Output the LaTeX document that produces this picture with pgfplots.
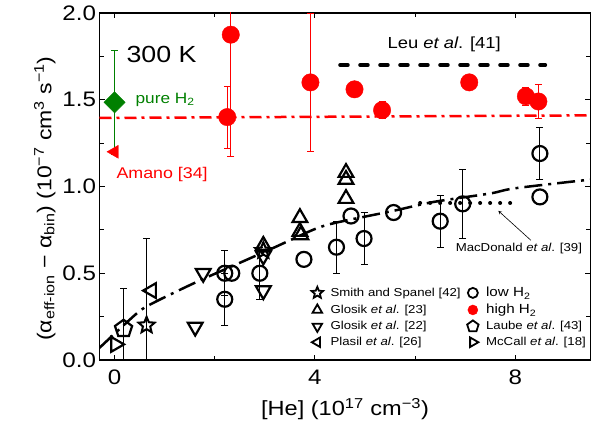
\documentclass[border=0pt]{standalone}
\usepackage{fontspec}
\setmainfont{Liberation Sans}[FakeStretch=1.15]
\usepackage{pgfplots}
\pgfplotsset{compat=1.18}
\usetikzlibrary{plotmarks}

% open five-pointed star
\pgfdeclareplotmark{ostar}{%
  \pgfpathmoveto{\pgfqpointpolar{90}{\pgfplotmarksize}}%
  \pgfpathlineto{\pgfqpointpolar{126}{0.45\pgfplotmarksize}}%
  \pgfpathlineto{\pgfqpointpolar{162}{\pgfplotmarksize}}%
  \pgfpathlineto{\pgfqpointpolar{198}{0.45\pgfplotmarksize}}%
  \pgfpathlineto{\pgfqpointpolar{234}{\pgfplotmarksize}}%
  \pgfpathlineto{\pgfqpointpolar{270}{0.45\pgfplotmarksize}}%
  \pgfpathlineto{\pgfqpointpolar{306}{\pgfplotmarksize}}%
  \pgfpathlineto{\pgfqpointpolar{342}{0.45\pgfplotmarksize}}%
  \pgfpathlineto{\pgfqpointpolar{18}{\pgfplotmarksize}}%
  \pgfpathlineto{\pgfqpointpolar{54}{0.45\pgfplotmarksize}}%
  \pgfpathclose\pgfusepathqstroke}

\definecolor{hired}{RGB}{255,0,0}
\definecolor{pgreen}{RGB}{0,128,0}

\begin{document}
\begin{tikzpicture}
\useasboundingbox (-99.5pt,-67pt) rectangle (501.5pt,360pt);
\begin{axis}[
  scale only axis, width=491pt, height=347pt,
  xmin=-0.3, xmax=9.5, ymin=0, ymax=2,
  xtick={0,4,8}, minor xtick={2,6},
  ytick={0,0.5,1,1.5,2}, minor ytick={0.25,0.75,1.25,1.75},
  tick align=inside,
  major tick length=5pt, minor tick length=4pt,
  every tick/.style={black, line width=1.1pt},
  axis line style={line width=1.2pt},
  /pgf/number format/assume math mode=true,
  yticklabel style={/pgf/number format/fixed, /pgf/number format/fixed zerofill, /pgf/number format/precision=1},
  tick label style={font=\fontsize{21}{21}\selectfont},
  xticklabel style={anchor=base, yshift=-25pt},
  xlabel={[He] (10\textsuperscript{17} cm\textsuperscript{−3})},
  ylabel={(α\textsubscript{eff-ion} − α\textsubscript{bin}) (10\textsuperscript{−7} cm\textsuperscript{3} s\textsuperscript{−1})},
  every axis x label/.style={at={(axis description cs:0.5,-0.161)}, anchor=base,
    font=\fontsize{20.5}{20.5}\selectfont},
  ylabel style={at={(ticklabel cs:0.465)}, anchor=near ticklabel,
    font=\fontsize{20}{20}\selectfont},
  legend style={at={(axis cs:3.87,0.44)}, anchor=north west, draw=none, fill=none,
    legend columns=2, font=\fontsize{11.5}{12}\selectfont,
    nodes={inner sep=1.5pt}, row sep=3pt,
    /tikz/every odd column/.append style={column sep=6pt},
    /tikz/every even column/.append style={column sep=5pt}},
  legend cell align=left,
]

% fit lines
\addplot[hired, line width=2.5pt, dash pattern=on 12pt off 5pt on 3pt off 5pt, forget plot]
  coordinates {(-0.3,1.395) (9.5,1.41)};
\addplot[black, line width=2.5pt, smooth, dash pattern=on 18pt off 6pt on 3pt off 6pt, forget plot]
  coordinates {(-0.3,0.07) (0.45,0.27) (0.78,0.33) (1.64,0.45) (2.5,0.56) (3.2,0.65)
    (3.96,0.75) (4.4,0.79) (5.57,0.86) (6.35,0.91) (7.5,0.96) (8.0,0.99) (9.5,1.04)};
% Leu et al.
\addplot[black, line width=3.5pt, line cap=round, dash pattern=on 8pt off 12pt, forget plot]
  coordinates {(4.5,1.70) (8.6,1.70)};
% MacDonald et al.
\addplot[black, line width=4pt, line cap=round, dash pattern=on 0pt off 10pt, forget plot]
  coordinates {(6.1,0.905) (8.0,0.905)};

% pure H2
\addplot[only marks, pgreen, mark=square*, mark size=7.5pt, mark options={rotate=45}, forget plot,
  error bars/.cd, y dir=both, y explicit,
  error bar style={line width=1.5pt, pgreen}, error mark options={rotate=90, mark size=3.5pt, line width=1.5pt, pgreen}]
  coordinates {(0,1.485) +- (0,0.30)};
% Amano
\addplot[only marks, hired, mark=triangle*, mark size=7.5pt, mark options={rotate=90}, forget plot]
  coordinates {(0,1.20)};

% high H2
\addplot[only marks, hired, mark=*, mark size=8.7pt, forget plot,
  error bars/.cd, y dir=both, y explicit,
  error bar style={line width=0.7pt, hired}, error mark options={rotate=90, mark size=3.5pt, line width=0.7pt, hired}]
  coordinates {(2.25,1.40) +- (0,0.18) (2.32,1.875) +- (0,0.70) (3.91,1.60) +- (0,0.40)
    (5.34,1.44) +- (0,0.05) (8.21,1.52) +- (0,0.05) (8.46,1.49) +- (0,0.10)};
\addplot[only marks, hired, mark=*, mark size=8.7pt, forget plot]
  coordinates {(4.79,1.56) (7.08,1.60)};

% low H2
\addplot[only marks, black, mark=o, mark size=7.5pt, line width=2.2pt, forget plot,
  error bars/.cd, y dir=both, y explicit,
  error bar style={line width=0.8pt}, error mark options={rotate=90, mark size=3.5pt, line width=0.8pt}]
  coordinates {(2.2,0.50) +- (0,0.13) (2.2,0.35) +- (0,0.15) (2.9,0.50) +- (0,0.15)
    (4.43,0.65) +- (0,0.15) (4.98,0.70) +- (0,0.15) (6.5,0.80) +- (0,0.15)
    (6.95,0.90) +- (0,0.20) (8.49,1.19) +- (0,0.15)};
\addplot[only marks, black, mark=o, mark size=7.5pt, line width=2.2pt, forget plot]
  coordinates {(2.34,0.50) (3.78,0.58) (4.72,0.83) (5.57,0.85) (8.49,0.94)};

% Glosik et al. [23]
\addplot[only marks, black, mark=triangle, mark size=8.5pt, line width=2.2pt, forget plot]
  coordinates {(2.97,0.66) (3.70,0.82) (3.70,0.74) (3.72,0.72) (4.62,1.08) (4.62,1.04) (4.62,0.93)};
% Glosik et al. [22]
\addplot[only marks, black, mark=triangle, mark size=8.5pt, line width=2.2pt, mark options={rotate=180}, forget plot]
  coordinates {(1.61,0.19) (1.77,0.50) (2.97,0.60) (2.97,0.40)};
% Smith and Spanel
\addplot[only marks, black, mark=ostar, mark size=8.5pt, line width=2pt, forget plot,
  error bars/.cd, y dir=both, y explicit,
  error bar style={line width=0.8pt}, error mark options={rotate=90, mark size=3.5pt, line width=0.8pt}]
  coordinates {(0.64,0.20) +- (0,0.50)};
\addplot[only marks, black, mark=ostar, mark size=8.5pt, line width=2pt, forget plot]
  coordinates {(2.97,0.63)};
% Plasil
\addplot[only marks, black, mark=triangle, mark size=8.5pt, line width=2.2pt, mark options={rotate=90}, forget plot]
  coordinates {(0.74,0.40)};
% Laube
\addplot[only marks, black, mark=pentagon, mark size=9pt, line width=2.2pt, forget plot,
  error bars/.cd, y dir=both, y explicit,
  error bar style={line width=0.8pt}, error mark options={rotate=90, mark size=3.5pt, line width=0.8pt}]
  coordinates {(0.18,0.18) +- (0,0.23)};
% McCall
\addplot[only marks, black, mark=triangle, mark size=8.5pt, line width=2.2pt, mark options={rotate=-90}, forget plot]
  coordinates {(0.02,0.09)};

% legend
\addlegendimage{only marks, black, mark=ostar, mark size=6pt, line width=1.8pt}
\addlegendentry{Smith and Spanel [42]}
\addlegendimage{only marks, black, mark=o, mark size=5pt, line width=1.8pt}
\addlegendentry{\fontsize{13.2}{13.2}\selectfont low H\textsubscript{2}}
\addlegendimage{only marks, black, mark=triangle, mark size=5.5pt, line width=1.8pt}
\addlegendentry{Glosik \textit{et al}. [23]}
\addlegendimage{only marks, hired, mark=*, mark size=5pt}
\addlegendentry{\fontsize{13.2}{13.2}\selectfont high H\textsubscript{2}}
\addlegendimage{only marks, black, mark=triangle, mark size=5.5pt, line width=1.8pt, mark options={rotate=180}}
\addlegendentry{Glosik \textit{et al}. [22]}
\addlegendimage{only marks, black, mark=pentagon, mark size=6pt, line width=1.8pt}
\addlegendentry{Laube \textit{et al}. [43]}
\addlegendimage{only marks, black, mark=triangle, mark size=5.5pt, line width=1.8pt, mark options={rotate=90}}
\addlegendentry{Plasil \textit{et al}. [26]}
\addlegendimage{only marks, black, mark=triangle, mark size=5.5pt, line width=1.8pt, mark options={rotate=-90}}
\addlegendentry{McCall \textit{et al}. [18]}

% annotations
\node[anchor=west, font=\fontsize{23.3}{23.3}\selectfont] at (axis cs:0.17,1.76) {300 K};
\node[anchor=west, text=pgreen, font=\fontsize{15}{15}\selectfont] at (axis cs:0.35,1.50) {pure H\textsubscript{2}};
\node[anchor=west, text=hired, font=\fontsize{15.5}{16}\selectfont] at (axis cs:-0.03,1.067) {Amano [34]};
\node[font=\fontsize{16}{16}\selectfont] at (axis cs:6.58,1.818) {Leu \textit{et al}. [41]};
\node[anchor=east, font=\fontsize{11.5}{12}\selectfont] at (axis cs:9.40,0.64) {MacDonald \textit{et al}. [39]};
\draw[-stealth, line width=0.6pt] (axis cs:8.31,0.69) -- (axis cs:7.66,0.86);
\end{axis}
\end{tikzpicture}
\end{document}
